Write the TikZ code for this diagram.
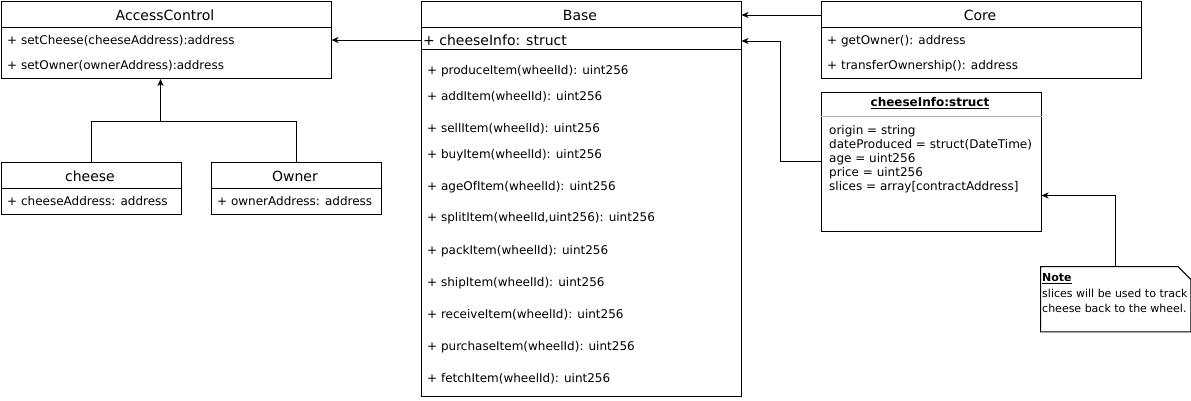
\documentclass[tikz,border=0pt]{standalone}
\usepackage{fontspec}
\setmainfont{DejaVu Sans}
\usetikzlibrary{arrows.meta}
\tikzset{
  box/.style={draw, line width=1pt, inner sep=0pt, anchor=north west},
  row/.style={inner sep=0pt, anchor=base west, font=\fontsize{12}{14}\selectfont},
  ttl/.style={inner sep=0pt, anchor=base, font=\fontsize{14}{16}\selectfont},
  ln/.style={line width=1pt},
  arr/.style={line width=1pt, -{Stealth[length=7pt,width=6pt,inset=2pt]}},
}
\begin{document}
\begin{tikzpicture}[x=1pt,y=-1pt]
\useasboundingbox (0,0) rectangle (1191,400);
% AccessControl
\node[box, minimum width=330pt, minimum height=77pt] (ac) at (0.5,1) {};
\draw[ln] (ac.west |- 0,27) -- (ac.east |- 0,27);
\node[ttl] (act) at (165,20) {AccessControl};
\node[row] (ac1) at (7,44.5) {+ setCheese(cheeseAddress):address};
\node[row] (ac2) at (7,69.5) {+ setOwner(ownerAddress):address};
% cheese
\node[box, minimum width=180pt, minimum height=52pt] (cheese) at (0.5,161.5) {};
\draw[ln] (cheese.west |- 0,188) -- (cheese.east |- 0,188);
\node[ttl] (cht) at (90,181) {cheese};
\node[row] (ch1) at (7,205) {+ cheeseAddress: address};
% Owner
\node[box, minimum width=170pt, minimum height=52pt] (owner) at (210.5,161.5) {};
\draw[ln] (owner.west |- 0,188) -- (owner.east |- 0,188);
\node[ttl] (owt) at (295,181) {Owner};
\node[row] (ow1) at (217,205) {+ ownerAddress: address};
% Base
\node[box, minimum width=320pt, minimum height=395pt] (base) at (420.5,1) {};
\draw[ln] (base.west |- 0,27) -- (base.east |- 0,27);
\draw[ln] (base.west |- 0,49) -- (base.east |- 0,49);
\node[ttl] (bat) at (580,20) {Base};
\node[row, font=\fontsize{14}{16}\selectfont] (ba0) at (423,45.5) {+ cheeseInfo: struct};
\node[row] (ba1) at (427,74) {+ produceItem(wheelId): uint256};
\node[row] (ba2) at (427,100) {+ addItem(wheelId): uint256};
\node[row] (ba3) at (427,132) {+ sellItem(wheelId): uint256};
\node[row] (ba4) at (427,158) {+ buyItem(wheelId): uint256};
\node[row] (ba5) at (427,190) {+ ageOfItem(wheelId): uint256};
\node[row] (ba6) at (427,221.5) {+ splitItem(wheelId,uint256): uint256};
\node[row] (ba7) at (427,254) {+ packItem(wheelId): uint256};
\node[row] (ba8) at (427,286) {+ shipItem(wheelId): uint256};
\node[row] (ba9) at (427,318) {+ receiveItem(wheelId): uint256};
\node[row] (ba10) at (427,350) {+ purchaseItem(wheelId): uint256};
\node[row] (ba11) at (427,382) {+ fetchItem(wheelId): uint256};
% Core
\node[box, minimum width=320pt, minimum height=77pt] (core) at (820.5,1) {};
\draw[ln] (core.west |- 0,27) -- (core.east |- 0,27);
\node[ttl] (cot) at (980,20) {Core};
\node[row] (co1) at (827,44.5) {+ getOwner(): address};
\node[row] (co2) at (827,69.5) {+ transferOwnership(): address};
% cheeseInfo struct
\node[box, minimum width=220pt, minimum height=139pt] (info) at (820.5,91.5) {};
\draw[line width=1pt, gray!60] (info.west |- 0,116.5) -- (info.east |- 0,116.5);
\node[inner sep=0pt, anchor=base, font=\bfseries\fontsize{12}{14}\selectfont] (inft) at (930,106.5) {\underline{cheeseInfo:struct}};
\node[row] (in1) at (829,134.5) {origin = string};
\node[row] (in2) at (829,148.5) {dateProduced = struct(DateTime)};
\node[row] (in3) at (829,162.5) {age = uint256};
\node[row] (in4) at (829,176.5) {price = uint256};
\node[row] (in5) at (829,190.5) {slices = array[contractAddress]};
% Note
\node[inner sep=0pt, anchor=north west, minimum width=150pt, minimum height=65pt] (note) at (1040.5,266.5) {};
\draw[ln] (note.north west) -- ([xshift=-13pt]note.north east) -- ([yshift=-13pt]note.north east) -- (note.south east) -- (note.south west) -- cycle;
\node[inner sep=0pt, anchor=base west, font=\bfseries\fontsize{11}{13}\selectfont] (nt0) at (1042,281.5) {\underline{Note}};
\node[inner sep=0pt, anchor=base west, font=\fontsize{11}{13}\selectfont] (nt1) at (1042,297.5) {slices will be used to track};
\node[inner sep=0pt, anchor=base west, font=\fontsize{11}{13}\selectfont] (nt2) at (1042,312.5) {cheese back to the wheel.};
% connectors
\draw[arr] (base.west |- 0,40) -- (ac.east |- 0,40);
\draw[arr] (core.west |- 0,15) -- (base.east |- 0,15);
\coordinate (bend) at (780.5,41);
\draw[arr] (info.west) -| (bend) -- (base.east |- bend);
\coordinate (j) at (160.5,121);
\draw[ln] (cheese.north) |- (owner.north |- j) -- (owner.north);
\draw[arr] (j) -- (j |- ac.south);
\draw[arr] (note.north) |- (info.east |- 0,195.5);
\end{tikzpicture}
\end{document}
